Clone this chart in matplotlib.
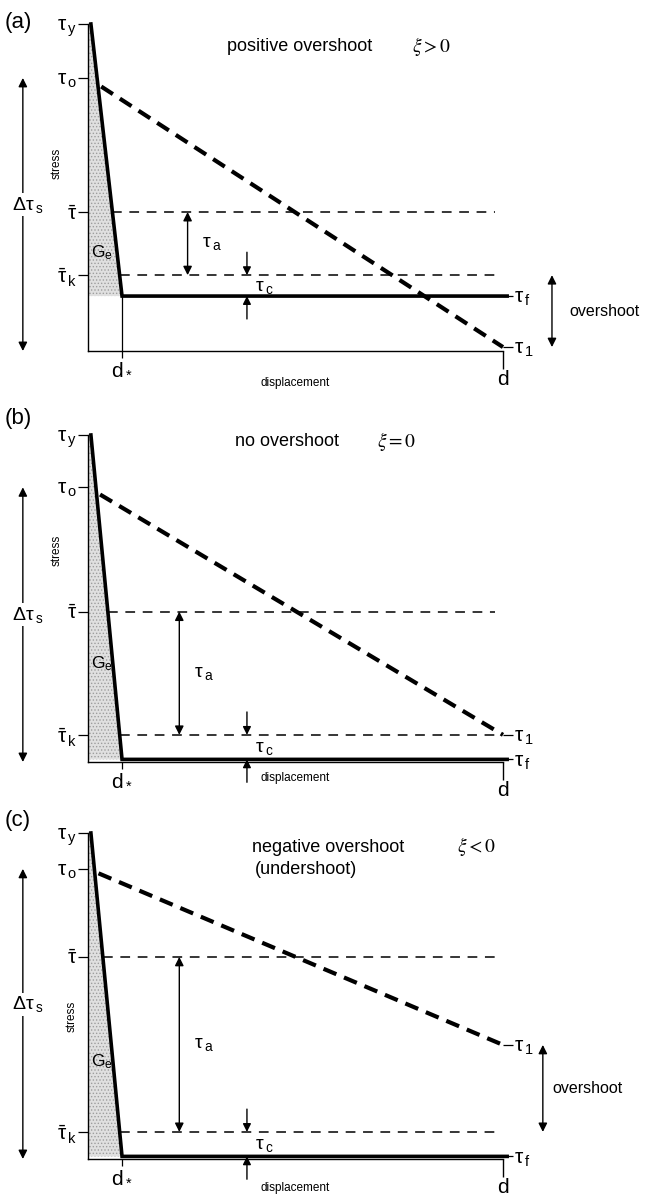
import numpy as np
import matplotlib.pyplot as plt

plt.rcParams['font.family'] = ['Liberation Sans', 'DejaVu Sans']
plt.rcParams['mathtext.fontset'] = 'dejavusans'
plt.rcParams['lines.scale_dashes'] = False
plt.rcParams['hatch.linewidth'] = 0.6
plt.rcParams['hatch.color'] = '0.6'

# --- displacement values (d = 10) ---
d_end = 10.0
d_star = 0.82
x_yield = 0.07

# --- stress levels for each panel (axis bottom = 0, tau_y = 10) ---
panel_tags = ['(a)', '(b)', '(c)']
tau_y = [10.0, 10.0, 10.0]
tau_o = [8.35, 8.4, 8.9]
tau_bar = [4.25, 4.6, 6.2]
tau_k = [2.32, 0.83, 0.83]
tau_f = [1.68, 0.08, 0.08]
tau_1 = [0.12, 0.83, 3.5]
has_overshoot = [True, False, True]

titles = ['positive overshoot', 'no overshoot', 'negative overshoot']
xi_text = [r'$\xi > 0$', r'$\xi = 0$', r'$\xi < 0$']

R = lambda s: r'$\mathregular{' + s + '}$'
left_labels = [R(r'\tau_{\,y}'), R(r'\tau_{\,o}'), R(r'\bar{\tau}'),
               R(r'\bar{\tau}_{\,k}')]
right_labels = [R(r'\tau_{\,f}'), R(r'\tau_{\,1}')]

# --- layout (pixels) ---
W, H = 645, 1202
ax_top = [24, 435, 833]
ax_bot = [351, 762, 1159]
x_left, x_right = 88, 503

title_x = [3.35, 3.54, 3.95]
title_y = [9.3, 9.79, 9.54]
xi_x = [7.81, 6.96, 8.89]
tag_y = [10.06, 10.5, 10.37]
stress_xy = [(-0.75, 5.75), (-0.75, 6.48), (-0.39, 4.36)]
disp_y = [-0.98, -0.49, -0.89]
ta_x = [2.4, 2.2, 2.2]
tc_x = 3.83
over_x = [11.18, None, 10.96]
over_lab_x = [11.6, None, 11.2]

fig = plt.figure(figsize=(W / 100, H / 100), dpi=100)


def darrow(ax, x, y0, y1, style='<|-|>', ms=13):
    ax.annotate('', xy=(x, y1), xytext=(x, y0),
                arrowprops=dict(arrowstyle=style, color='k', lw=1.0,
                                mutation_scale=ms, shrinkA=0, shrinkB=0),
                annotation_clip=False)


for i in range(3):
    ax = fig.add_axes([x_left / W, 1 - ax_bot[i] / H,
                       (x_right - x_left) / W, (ax_bot[i] - ax_top[i]) / H])
    ax.set_xlim(0, d_end)
    ax.set_ylim(0, tau_y[i])
    for s in ['top', 'right']:
        ax.spines[s].set_visible(False)
    for s in ['left', 'bottom']:
        ax.spines[s].set_linewidth(1.0)

    ty, tf = tau_y[i], tau_f[i]

    def ramp_x(s):
        return x_yield + (ty - s) / (ty - tf) * (d_star - x_yield)

    # shaded elastic region
    ax.fill([0, x_yield, d_star, 0], [ty, ty, tf, tf], facecolor='0.88',
            edgecolor='0.62', hatch='.....', lw=0, zorder=1)

    # loading / sliding curve
    ax.plot([x_yield, d_star, 10.1], [ty, tf, tf], color='k', lw=2.6,
            solid_joinstyle='miter', clip_on=False, zorder=4)
    if tf > 0.5:
        ax.vlines(d_star, 0, tf, color='k', lw=0.9)

    # thick dashed stress drop line
    x0 = ramp_x(tau_o[i]) + 0.1
    y0 = tau_o[i] + (tau_1[i] - tau_o[i]) * x0 / d_end
    ax.plot([x0, d_end], [y0, tau_1[i]], color='k', lw=3.0,
            dashes=(10, 6), clip_on=False, zorder=3)

    # thin dashed levels
    for lev in [tau_bar[i], tau_k[i]]:
        ax.plot([ramp_x(lev), 9.8], [lev, lev], color='k', lw=1.1,
                dashes=(7, 5.5), zorder=2)

    # tau_a arrow
    darrow(ax, ta_x[i], tau_bar[i], tau_k[i])
    ax.text(ta_x[i] + 0.35, (tau_bar[i] + tau_k[i]) / 2, R(r'\tau_{\,a}'),
            fontsize=14, va='center', ha='left')

    # tau_c arrows
    darrow(ax, tc_x, tau_k[i] + 0.7, tau_k[i], style='-|>', ms=12)
    darrow(ax, tc_x, tf - 0.7, tf, style='-|>', ms=12)
    ax.text(tc_x + 0.2, (tau_k[i] + tf) / 2 - 0.05, R(r'\tau_{\,c}'),
            fontsize=14, va='center', ha='left', zorder=6)

    # G_e
    ax.text(0.07, 3.0, R('G_e'), fontsize=12.5, va='center', ha='left',
            zorder=5)

    # delta tau_s arrow
    darrow(ax, -1.57, tau_o[i], 0)
    ax.text(-1.45, tau_o[i] / 2 + 0.3, R(r'\Delta\tau_{\,s}'), fontsize=14,
            va='center', ha='center',
            bbox=dict(facecolor='white', edgecolor='none', pad=1))

    # overshoot arrow
    if has_overshoot[i]:
        darrow(ax, over_x[i], tau_k[i], tau_1[i])
        ax.text(over_lab_x[i], (tau_k[i] + tau_1[i]) / 2, 'overshoot',
                fontsize=11.5, va='center', ha='left')

    # left ticks
    ax.set_yticks([ty, tau_o[i], tau_bar[i], tau_k[i]])
    ax.set_yticklabels(left_labels)
    ax.tick_params(axis='y', length=7, width=0.9, pad=1, labelsize=15)

    # bottom ticks
    ax.set_xticks([d_end])
    ax.set_xticklabels(['d'])
    ax.set_xticks([d_star], minor=True)
    ax.set_xticklabels([R('d_*')], minor=True)
    ax.tick_params(axis='x', which='major', length=13, width=1.0, pad=1,
                   labelsize=15)
    ax.tick_params(axis='x', which='minor', length=5, width=0.9, pad=1,
                   labelsize=15)

    # right ticks
    tw = ax.twinx()
    tw.set_ylim(ax.get_ylim())
    for s in tw.spines.values():
        s.set_visible(False)
    tw.set_yticks([tf, tau_1[i]])
    tw.set_yticklabels(right_labels)
    tw.tick_params(axis='y', length=7, width=0.9, pad=1, labelsize=15)

    # texts
    ax.text(stress_xy[i][0], stress_xy[i][1], 'stress', rotation=90,
            fontsize=8.5, va='center', ha='center')
    ax.text(5.0, disp_y[i], 'displacement', fontsize=8.5, va='center',
            ha='center')
    ax.text(-2.0, tag_y[i], panel_tags[i], fontsize=16, va='center',
            ha='left', clip_on=False)
    ax.text(title_x[i], title_y[i], titles[i], fontsize=13, va='center',
            ha='left')
    ax.text(xi_x[i], title_y[i] + (0.05 if i == 2 else 0), xi_text[i],
            fontsize=14, va='center', ha='left', math_fontfamily='stix')
    if i == 2:
        ax.text(4.02, 8.87, '(undershoot)', fontsize=13, va='center',
                ha='left')

fig.savefig('out.png', dpi=100)
